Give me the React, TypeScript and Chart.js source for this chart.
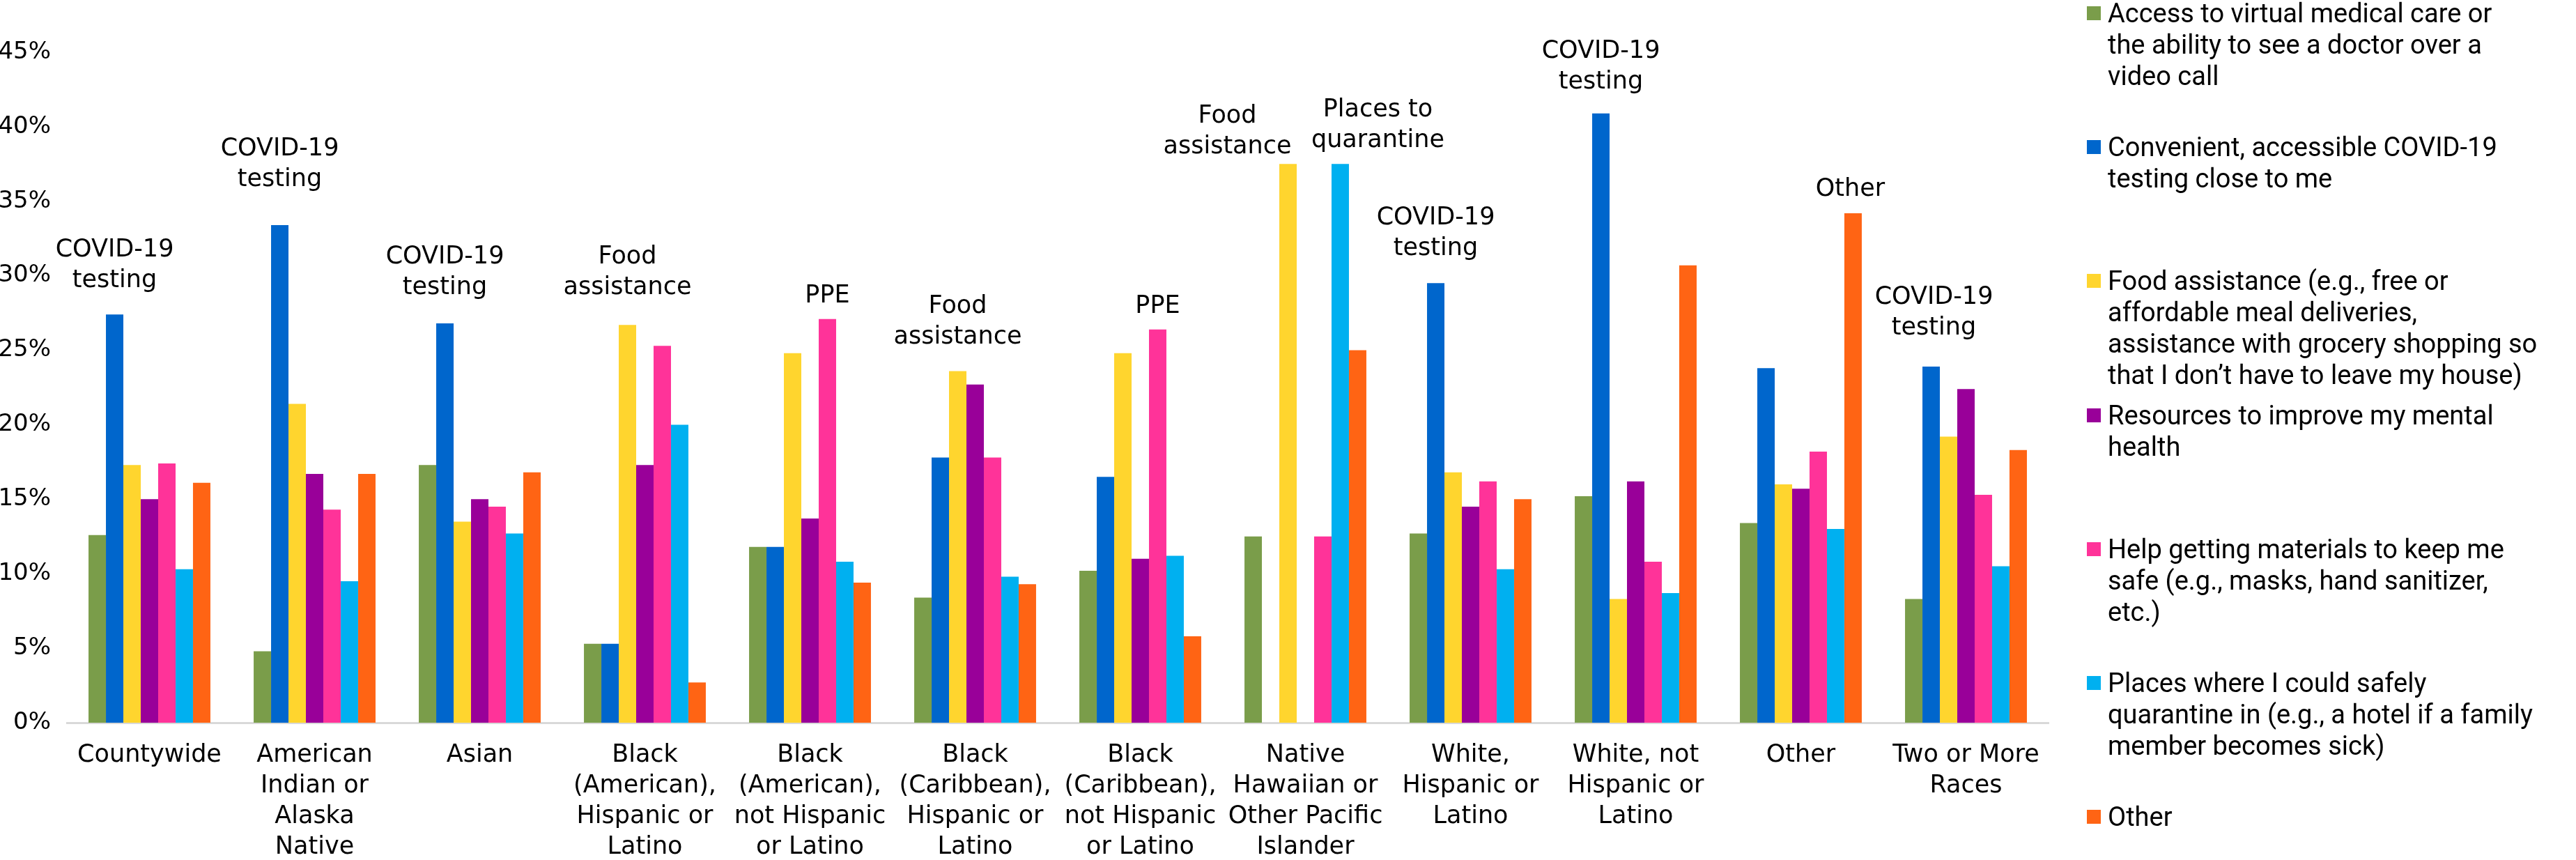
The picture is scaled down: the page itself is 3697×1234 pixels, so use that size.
import React, { useEffect, useRef } from "react";
import { Chart, registerables } from "chart.js";

Chart.register(...registerables);

// ---------- DATA ----------
const categories: string[][] = [
  ["Countywide"],
  ["American", "Indian or", "Alaska", "Native"],
  ["Asian"],
  ["Black", "(American),", "Hispanic or", "Latino"],
  ["Black", "(American),", "not Hispanic", "or Latino"],
  ["Black", "(Caribbean),", "Hispanic or", "Latino"],
  ["Black", "(Caribbean),", "not Hispanic", "or Latino"],
  ["Native", "Hawaiian or", "Other Pacific", "Islander"],
  ["White,", "Hispanic or", "Latino"],
  ["White, not", "Hispanic or", "Latino"],
  ["Other"],
  ["Two or More", "Races"],
];

const seriesNames: string[][] = [
  ["Access to virtual medical care or", "the ability to see a doctor over a", "video call"],
  ["Convenient, accessible COVID-19", "testing close to me"],
  ["Food assistance (e.g., free or", "affordable meal deliveries,", "assistance with grocery shopping so", "that I don\u2019t have to leave my house)"],
  ["Resources to improve my mental", "health"],
  ["Help getting materials to keep me", "safe (e.g., masks, hand sanitizer,", "etc.)"],
  ["Places where I could safely", "quarantine in (e.g., a hotel if a family", "member becomes sick)"],
  ["Other"],
];

const seriesColors = ["#7A9D4A", "#0066CC", "#FFD52E", "#990099", "#FF3399", "#00B0F0", "#FF6414"];

const virtualCare = [12.6, 4.8, 17.3, 5.3, 11.8, 8.4, 10.2, 12.5, 12.7, 15.2, 13.4, 8.3];
const covidTesting = [27.4, 33.4, 26.8, 5.3, 11.8, 17.8, 16.5, null, 29.5, 40.9, 23.8, 23.9];
const foodAssistance = [17.3, 21.4, 13.5, 26.7, 24.8, 23.6, 24.8, 37.5, 16.8, 8.3, 16.0, 19.2];
const mentalHealth = [15.0, 16.7, 15.0, 17.3, 13.7, 22.7, 11.0, null, 14.5, 16.2, 15.7, 22.4];
const safetyMaterials = [17.4, 14.3, 14.5, 25.3, 27.1, 17.8, 26.4, 12.5, 16.2, 10.8, 18.2, 15.3];
const quarantinePlaces = [10.3, 9.5, 12.7, 20.0, 10.8, 9.8, 11.2, 37.5, 10.3, 8.7, 13.0, 10.5];
const otherNeed = [16.1, 16.7, 16.8, 2.7, 9.4, 9.3, 5.8, 25.0, 15.0, 30.7, 34.2, 18.3];

const seriesValues = [virtualCare, covidTesting, foodAssistance, mentalHealth, safetyMaterials, quarantinePlaces, otherNeed];

const yMin = 0;
const yMax = 45;
const yStep = 5;

// Top-need labels: category index, series index, text
const topLabelCategory = [0, 1, 2, 3, 4, 5, 6, 7, 7, 8, 9, 10, 11];
const topLabelSeries = [1, 1, 1, 2, 4, 2, 4, 2, 5, 1, 1, 6, 1];
const topLabelText: string[][] = [
  ["COVID-19", "testing"],
  ["COVID-19", "testing"],
  ["COVID-19", "testing"],
  ["Food", "assistance"],
  ["PPE"],
  ["Food", "assistance"],
  ["PPE"],
  ["Food", "assistance"],
  ["Places to", "quarantine"],
  ["COVID-19", "testing"],
  ["COVID-19", "testing"],
  ["Other"],
  ["COVID-19", "testing"],
];
// label placement (style, px)
const topLabelDx = [0, 0, 0, 0, 0, 0, 0, -87, 54, 0, 0, -4, 4];
const topLabelGap = [48, 65, 51, 53, 33, 49, 33, 24, 33, 49, 45, 34, 55];

const FONT = '"DejaVu Sans", sans-serif';
const LINE_H = 44;

const topLabelsPlugin = {
  id: "topLabels",
  afterDatasetsDraw(chart: any) {
    const ctx = chart.ctx;
    ctx.save();
    ctx.font = `35px ${FONT}`;
    ctx.fillStyle = "#000";
    ctx.textAlign = "center";
    ctx.textBaseline = "middle";
    topLabelText.forEach((lines, i) => {
      const el = chart.getDatasetMeta(topLabelSeries[i]).data[topLabelCategory[i]];
      if (!el) return;
      const x = el.x + topLabelDx[i];
      const bottom = el.y - topLabelGap[i];
      lines.forEach((ln, j) => {
        ctx.fillText(ln, x, bottom - (lines.length - 1 - j) * LINE_H);
      });
    });
    ctx.restore();
  },
};

export default function App() {
  const canvasRef = useRef<HTMLCanvasElement | null>(null);

  useEffect(() => {
    if (!canvasRef.current) return;
    const chart = new Chart(canvasRef.current, {
      type: "bar",
      data: {
        labels: categories,
        datasets: seriesValues.map((vals, i) => ({
          label: seriesNames[i].join(" "),
          data: vals,
          backgroundColor: seriesColors[i],
          borderWidth: 0,
          barPercentage: 1.0,
          categoryPercentage: 0.738,
        })),
      },
      options: {
        responsive: true,
        maintainAspectRatio: false,
        animation: false,
        layout: { padding: { top: 75, right: 35, left: 0, bottom: 0 } },
        plugins: {
          legend: { display: false },
          tooltip: { enabled: false },
          title: { display: false },
        },
        scales: {
          x: {
            grid: { display: false, drawTicks: false },
            border: { display: true, color: "#D9D9D9", width: 3 },
            ticks: {
              color: "#000",
              font: { family: FONT, size: 35, lineHeight: LINE_H / 35 },
              padding: 25,
              autoSkip: false,
              maxRotation: 0,
              minRotation: 0,
            },
            afterFit: (s: any) => {
              s.height = 197;
            },
          },
          y: {
            min: yMin,
            max: yMax,
            grid: { display: false, drawTicks: false },
            border: { display: false },
            ticks: {
              stepSize: yStep,
              color: "#000",
              font: { family: FONT, size: 34 },
              padding: 23,
              callback: (v: any) => `${v}%`,
            },
            afterFit: (s: any) => {
              s.width = 96;
            },
          },
        },
      },
      plugins: [topLabelsPlugin],
    });
    return () => chart.destroy();
  }, []);

  return (
    <div style={{ position: "fixed", left: 0, top: 0, width: 3697, height: 1234, background: "#fff" }}>
      <div style={{ position: "absolute", left: 0, top: 0, width: 2975, height: 1234 }}>
        <canvas ref={canvasRef} />
      </div>
      <div style={{ position: "absolute", left: 2995, top: -3, width: 700 }}>
        {seriesNames.map((lines, i) => (
          <div key={i} style={{ position: "relative", height: 192.2 }}>
            <div
              style={{
                position: "absolute",
                left: 0,
                top: 12,
                width: 20,
                height: 20,
                background: seriesColors[i],
              }}
            />
            <div
              style={{
                position: "absolute",
                left: 30,
                top: 0,
                fontFamily: "Roboto, sans-serif",
                fontSize: 38,
                lineHeight: "45px",
                color: "#000",
                whiteSpace: "nowrap",
              }}
            >
              {lines.map((ln, j) => (
                <div key={j}>{ln}</div>
              ))}
            </div>
          </div>
        ))}
      </div>
    </div>
  );
}
